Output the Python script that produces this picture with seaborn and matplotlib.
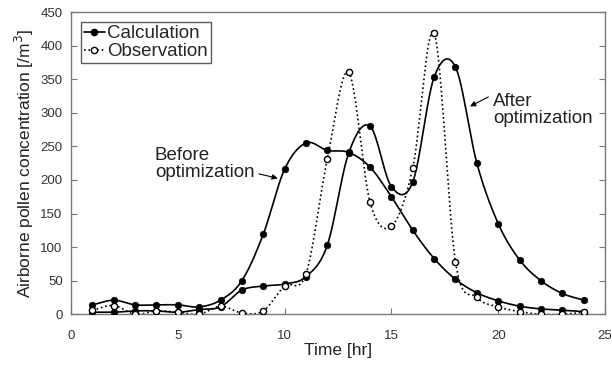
import numpy as np
import pandas as pd
import matplotlib
matplotlib.use("Agg")
import matplotlib.pyplot as plt
import seaborn as sns
from matplotlib.lines import Line2D

hours = [1, 2, 3, 4, 5, 6, 7, 8, 9, 10, 11, 12, 13, 14, 15, 16, 17, 18, 19, 20, 21, 22, 23, 24]
calc_before = [14, 21, 14, 14, 14, 11, 21, 50, 119, 216, 255, 244, 241, 219, 175, 125, 83, 52, 32, 20, 12, 8, 6, 4]
calc_after = [3, 3, 5, 5, 3, 7, 11, 36, 42, 45, 56, 103, 240, 280, 190, 197, 353, 368, 225, 135, 81, 50, 31, 21]
observed = [6, 13, 0, 5, 3, 0, 12, 2, 5, 42, 60, 231, 360, 167, 131, 218, 419, 78, 25, 11, 4, 0, 0, 3]

x_ticks = [0, 5, 10, 15, 20, 25]
y_ticks = [0, 50, 100, 150, 200, 250, 300, 350, 400, 450]


def smooth_curve(x, y, per_seg=40):
    """Catmull-Rom smoothing through the data points (rendering only)."""
    x = np.asarray(x, float)
    y = np.asarray(y, float)
    n = len(x)
    m = np.zeros(n)
    m[1:-1] = (y[2:] - y[:-2]) / (x[2:] - x[:-2])
    m[0] = (y[1] - y[0]) / (x[1] - x[0])
    m[-1] = (y[-1] - y[-2]) / (x[-1] - x[-2])
    xs_all, ys_all = [], []
    for i in range(n - 1):
        h = x[i + 1] - x[i]
        t = np.linspace(0, 1, per_seg, endpoint=(i == n - 2))
        h00 = 2 * t ** 3 - 3 * t ** 2 + 1
        h10 = t ** 3 - 2 * t ** 2 + t
        h01 = -2 * t ** 3 + 3 * t ** 2
        h11 = t ** 3 - t ** 2
        xs_all.append(x[i] + t * h)
        ys_all.append(h00 * y[i] + h10 * h * m[i] + h01 * y[i + 1] + h11 * h * m[i + 1])
    return np.concatenate(xs_all), np.concatenate(ys_all)


sns.set_theme(style="white")
plt.rcParams["font.family"] = ["Liberation Sans", "DejaVu Sans"]

fig = plt.figure(figsize=(6.12, 3.65), dpi=100)
ax = fig.add_axes([0.116, 0.139, 0.8726, 0.828])

for vals, ls in [(calc_before, "-"), (calc_after, "-"), (observed, ":")]:
    xs, ys = smooth_curve(hours, vals)
    sns.lineplot(x=xs, y=ys, ax=ax, color="black", linestyle=ls,
                 linewidth=1.2, sort=False, estimator=None)

for vals in [calc_before, calc_after]:
    sns.scatterplot(x=hours, y=vals, ax=ax, color="black", s=22,
                    edgecolor="black", linewidth=0.5, zorder=5)
sns.scatterplot(x=hours, y=observed, ax=ax, color="white", s=20,
                edgecolor="black", linewidth=1.0, zorder=6)

ax.set_xlim(0, 25)
ax.set_ylim(0, 450)
ax.set_xticks(x_ticks)
ax.set_yticks(y_ticks)
ax.tick_params(axis="both", direction="in", length=4, width=0.8, colors="#777777",
               labelcolor="#333333", labelsize=9.5, right=True, left=True, bottom=True, top=False)
ax.tick_params(axis="y", pad=6)
ax.tick_params(axis="x", pad=11)
for s in ax.spines.values():
    s.set_color("#777777")
    s.set_linewidth(1.0)

ax.set_xlabel("Time [hr]", fontsize=12.5, color="#222222", labelpad=1)
ax.set_ylabel("Airborne pollen concentration [/m$^3$]", fontsize=12.5, color="#222222", labelpad=3)

handles = [
    Line2D([0], [0], color="black", lw=1.2, ls="-", marker="o", markersize=4.5,
           markerfacecolor="black", markeredgecolor="black"),
    Line2D([0], [0], color="black", lw=1.2, ls=":", marker="o", markersize=4.5,
           markerfacecolor="white", markeredgecolor="black"),
]
leg = ax.legend(handles, ["Calculation", "Observation"], loc="upper left",
                bbox_to_anchor=(0.019, 0.966), fontsize=13.5, frameon=True, fancybox=False,
                handlelength=1.1, handletextpad=0.15, borderpad=0.15, labelspacing=0.05,
                borderaxespad=0)
leg.get_frame().set_edgecolor("#333333")
leg.get_frame().set_linewidth(1.0)

ax.text(3.93, 223, "Before\noptimization", fontsize=13.5, ha="left", va="center",
        color="#222222", linespacing=1.0)
ax.annotate("", xy=(9.68, 202.5), xytext=(8.8, 209),
            arrowprops=dict(arrowstyle="-|>", color="black", lw=0.8, mutation_scale=8,
                            shrinkA=0, shrinkB=0))
ax.text(19.76, 304, "After\noptimization", fontsize=13.5, ha="left", va="center",
        color="#222222", linespacing=1.0)
ax.annotate("", xy=(18.68, 309.6), xytext=(19.54, 323.6),
            arrowprops=dict(arrowstyle="-|>", color="black", lw=0.8, mutation_scale=8,
                            shrinkA=0, shrinkB=0))

fig.savefig("out.png", dpi=100)
